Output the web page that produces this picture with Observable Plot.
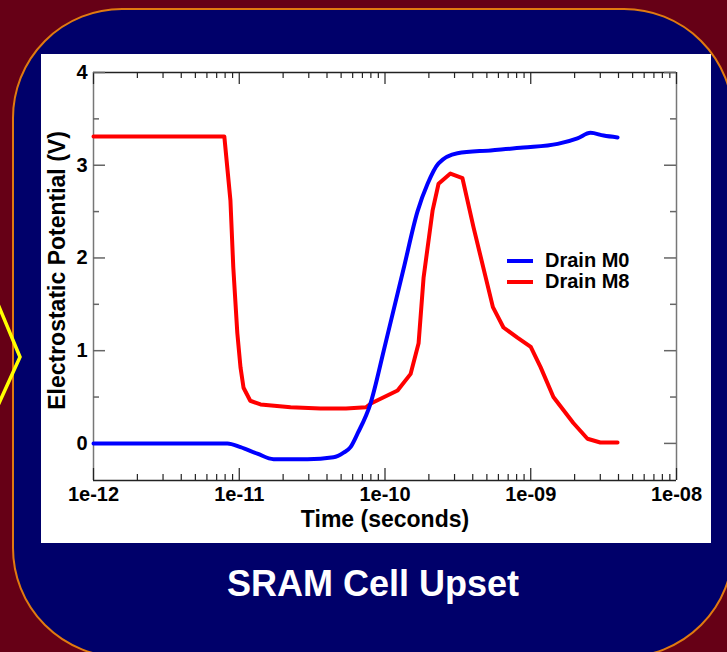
<!DOCTYPE html>
<html>
<head>
<meta charset="utf-8">
<script src="https://cdn.jsdelivr.net/npm/d3@7"></script>
<script src="https://cdn.jsdelivr.net/npm/@observablehq/plot@0.6"></script>
<style>
  html, body { margin: 0; padding: 0; }
  body { width: 727px; height: 652px; background: #660016; position: relative; overflow: hidden; font-family: "Liberation Sans", Arial, sans-serif; }
  #card { position: absolute; left: 12px; top: 8px; width: 722px; height: 650px; box-sizing: border-box; border: 2px solid #e07a10; border-radius: 110px; background: #00006a; }
  #panel { position: absolute; left: 41px; top: 54px; width: 670px; height: 489px; background: #fff; }
  #chev { position: absolute; left: 0; top: 0; }
  #title { position: absolute; left: 373px; top: 566px; transform: translateX(-50%); color: #fff; font-weight: bold; font-size: 36px; line-height: 1; white-space: nowrap; }
  #legend { position: absolute; left: 507px; top: 250px; font-weight: bold; font-size: 20px; color: #000; }
  #legend .row { display: flex; align-items: center; height: 21px; }
  #legend .sw { width: 26px; height: 0; border-top: 4px solid; margin-right: 12px; }
</style>
</head>
<body>
<div id="card"></div>
<svg id="chev" width="40" height="652"><polyline points="-5,297 20,357 -5,412" fill="none" stroke="#ffff00" stroke-width="3.5"/></svg>
<div id="panel"></div>
<div id="legend"></div>
<div id="title">SRAM Cell Upset</div>
<script>
// ---- data ----
const seriesNames = ["Drain M0", "Drain M8"];
const seriesColors = ["#0000ff", "#ff0000"];

const m0Time = [1e-12, 8.3e-12, 1.02e-11, 1.33e-11, 1.72e-11, 2.94e-11, 4.43e-11, 5.2e-11, 5.8e-11, 6.5e-11, 7.95e-11, 9.8e-11, 1.09e-10, 1.34e-10, 1.67e-10, 1.96e-10, 2.33e-10, 3.14e-10, 5.3e-10, 8.9e-10, 1.53e-9, 2.09e-9, 2.57e-9, 3.16e-9, 3.94e-9];
const m0Volt = [0, 0, -0.04, -0.11, -0.17, -0.17, -0.15, -0.10, -0.04, 0.11, 0.43, 1.00, 1.30, 1.88, 2.50, 2.80, 3.02, 3.13, 3.16, 3.19, 3.23, 3.29, 3.35, 3.32, 3.30];

const m8Time = [1e-12, 7.9e-12, 8.7e-12, 9.1e-12, 9.7e-12, 1.02e-11, 1.07e-11, 1.19e-11, 1.4e-11, 2.25e-11, 3.6e-11, 5.4e-11, 7.4e-11, 8.0e-11, 1.22e-10, 1.5e-10, 1.7e-10, 1.84e-10, 2.12e-10, 2.33e-10, 2.81e-10, 3.4e-10, 4.05e-10, 5.5e-10, 6.5e-10, 8.1e-10, 1.0e-9, 1.17e-9, 1.43e-9, 1.96e-9, 2.45e-9, 3.0e-9, 3.94e-9];
const m8Volt = [3.31, 3.31, 2.62, 1.90, 1.19, 0.82, 0.60, 0.46, 0.42, 0.39, 0.377, 0.377, 0.39, 0.43, 0.57, 0.75, 1.08, 1.79, 2.51, 2.80, 2.91, 2.86, 2.33, 1.47, 1.25, 1.14, 1.04, 0.82, 0.50, 0.22, 0.05, 0.01, 0.01];

const xMajor = [1e-12, 1e-11, 1e-10, 1e-9, 1e-8];
const xTickLabels = ["1e-12", "1e-11", "1e-10", "1e-09", "1e-08"];
const yMajor = [0, 1, 2, 3, 4];
const yTickLabels = ["0", "1", "2", "3", "4"];
const yMinor = [0.5, 1.5, 2.5, 3.5];
const xDomain = [1e-12, 1e-8];
const yDomain = [-0.4, 4];
const xLabel = "Time (seconds)";
const yLabel = "Electrostatic Potential (V)";

// ---- build ----
const xMinor = [];
xMajor.slice(0, -1).forEach(d => { for (let m = 2; m <= 9; m++) xMinor.push(d * m); });

const m0 = m0Time.map((t, i) => ({t, v: m0Volt[i]}));
const m8 = m8Time.map((t, i) => ({t, v: m8Volt[i]}));

const W = 670, H = 489, mL = 52, mR = 35, mT = 18, mB = 63;
const iW = W - mL - mR, iH = H - mT - mB;

const chart = Plot.plot({
  width: W, height: H,
  marginLeft: mL, marginRight: mR, marginTop: mT, marginBottom: mB,
  style: {fontFamily: "'Liberation Sans', Arial, sans-serif", background: "white", color: "black", overflow: "visible"},
  x: {type: "log", domain: xDomain},
  y: {domain: yDomain},
  marks: [
    // frame
    Plot.ruleY([yDomain[1]], {stroke: "#222", strokeWidth: 1.5}),
    Plot.ruleY([yDomain[0]], {stroke: "#222", strokeWidth: 1.5}),
    Plot.ruleX([xDomain[0]], {stroke: "#777", strokeWidth: 1.5}),
    Plot.ruleX([xDomain[1]], {stroke: "#777", strokeWidth: 1.5}),
    // x ticks (inward, bottom & top)
    Plot.tickX(xMajor, {x: d => d, insetTop: iH - 12, stroke: "#222", strokeWidth: 1.2}),
    Plot.tickX(xMajor, {x: d => d, insetBottom: iH - 12, stroke: "#222", strokeWidth: 1.2}),
    Plot.tickX(xMinor, {x: d => d, insetTop: iH - 6, stroke: "#222", strokeWidth: 1.2}),
    Plot.tickX(xMinor, {x: d => d, insetBottom: iH - 6, stroke: "#222", strokeWidth: 1.2}),
    // y ticks (inward, left & right)
    Plot.tickY(yMajor, {y: d => d, insetRight: iW - 12, stroke: "#666", strokeWidth: 1.5}),
    Plot.tickY(yMajor, {y: d => d, insetLeft: iW - 12, stroke: "#666", strokeWidth: 1.5}),
    Plot.tickY(yMinor, {y: d => d, insetRight: iW - 6, stroke: "#666", strokeWidth: 1.5}),
    Plot.tickY(yMinor, {y: d => d, insetLeft: iW - 6, stroke: "#666", strokeWidth: 1.5}),
    // tick labels
    Plot.axisX(xMajor, {anchor: "bottom", tickSize: 0, tickPadding: 6, label: null, fontSize: 20, fontWeight: "bold",
      tickFormat: d => xTickLabels[xMajor.indexOf(d)]}),
    Plot.axisY(yMajor, {anchor: "left", tickSize: 0, tickPadding: 6, label: null, fontSize: 20, fontWeight: "bold",
      tickFormat: d => yTickLabels[yMajor.indexOf(d)]}),
    // axis titles
    Plot.text([xLabel], {text: d => d, frameAnchor: "bottom", textAnchor: "middle", lineAnchor: "middle", dy: 39, fontSize: 23, fontWeight: "bold"}),
    Plot.text([yLabel], {text: d => d, frameAnchor: "left", textAnchor: "middle", lineAnchor: "middle", dx: -36, dy: -6, rotate: -90, fontSize: 23, fontWeight: "bold"}),
    // series
    Plot.line(m8, {x: "t", y: "v", stroke: seriesColors[1], strokeWidth: 4, strokeLinejoin: "round"}),
    Plot.line(m0, {x: "t", y: "v", stroke: seriesColors[0], strokeWidth: 4, strokeLinejoin: "round", curve: "monotone-x"})
  ]
});
document.getElementById("panel").appendChild(chart);

const legend = document.getElementById("legend");
seriesNames.forEach((n, i) => {
  const row = document.createElement("div");
  row.className = "row";
  const sw = document.createElement("span");
  sw.className = "sw";
  sw.style.borderTopColor = seriesColors[i];
  const tx = document.createElement("span");
  tx.textContent = n;
  row.appendChild(sw); row.appendChild(tx);
  legend.appendChild(row);
});
</script>
</body>
</html>
